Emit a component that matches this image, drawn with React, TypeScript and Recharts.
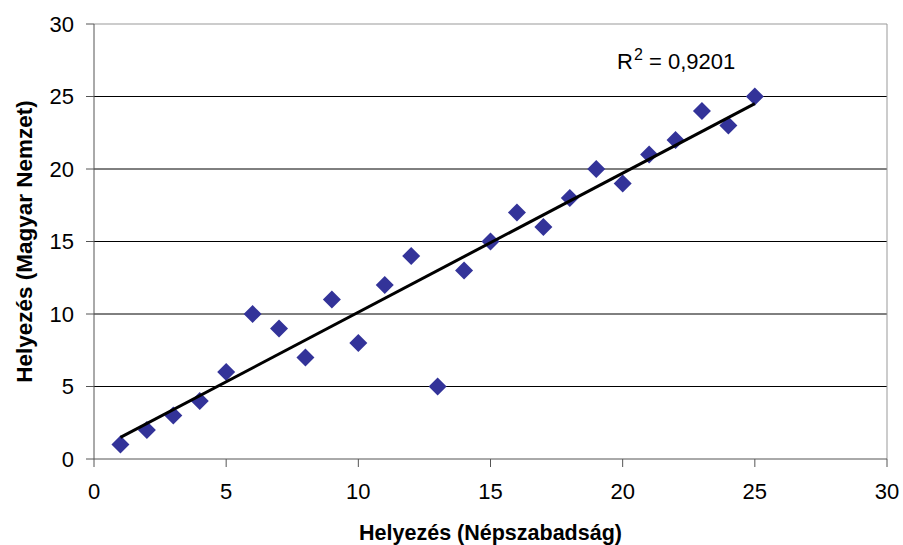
import React from "react";
import {
  ScatterChart,
  Scatter,
  XAxis,
  YAxis,
  CartesianGrid,
  ReferenceLine,
  ReferenceDot,
} from "recharts";

// ranks in Népszabadság (x) vs Magyar Nemzet (y)
const rankNepszabadsag = [1, 2, 3, 4, 5, 6, 7, 8, 9, 10, 11, 12, 13, 14, 15, 16, 17, 18, 19, 20, 21, 22, 23, 24, 25];
const rankMagyarNemzet = [1, 2, 3, 4, 6, 10, 9, 7, 11, 8, 12, 14, 5, 13, 15, 17, 16, 18, 20, 19, 21, 22, 24, 23, 25];
const axisTicks = [0, 5, 10, 15, 20, 25, 30];
const gridLines = [5, 10, 15, 20, 25];
const r2Label = "0,9201";

const points = rankNepszabadsag.map((x, i) => ({ x, y: rankMagyarNemzet[i] }));

// least squares trend line
const n = points.length;
const mx = points.reduce((s, p) => s + p.x, 0) / n;
const my = points.reduce((s, p) => s + p.y, 0) / n;
const slope =
  points.reduce((s, p) => s + (p.x - mx) * (p.y - my), 0) /
  points.reduce((s, p) => s + (p.x - mx) * (p.x - mx), 0);
const xMin = Math.min(...rankNepszabadsag);
const xMax = Math.max(...rankNepszabadsag);
const trend = [
  { x: xMin, y: my + slope * (xMin - mx) },
  { x: xMax, y: my + slope * (xMax - mx) },
];

const FONT = "'Liberation Sans', Arial, sans-serif";

const Diamond = (props: any) => {
  const { cx, cy } = props;
  const s = 9;
  return (
    <polygon
      points={`${cx},${cy - s} ${cx + s},${cy} ${cx},${cy + s} ${cx - s},${cy}`}
      fill="#333399"
    />
  );
};

const R2Text = (props: any) => {
  const { viewBox } = props;
  const x = viewBox.cx ?? viewBox.x;
  const y = viewBox.cy ?? viewBox.y;
  return (
    <text x={x} y={y} fontFamily={FONT} fontSize={22} fill="#000">
      R<tspan dx={1} dy={-9} fontSize={16}>2</tspan>
      <tspan dy={9}>{` = ${r2Label}`}</tspan>
    </text>
  );
};

export default function App() {
  return (
    <div style={{ position: "absolute", left: 0, top: 0, background: "#fff" }}>
      <ScatterChart
        width={903}
        height={545}
        margin={{ top: 24, right: 16, bottom: 0, left: 0 }}
      >
        <CartesianGrid
          vertical={false}
          stroke="#000"
          horizontalValues={gridLines}
        />
        <XAxis
          type="number"
          dataKey="x"
          domain={[0, 30]}
          ticks={axisTicks}
          interval={0}
          height={86}
          tickSize={8}
          tickMargin={16}
          stroke="#555"
          tick={{ fill: "#000", fontSize: 22, fontFamily: FONT }}
          label={{
            value: "Helyezés (Népszabadság)",
            position: "insideBottom",
            offset: 5,
            style: { fontFamily: FONT, fontWeight: "bold", fontSize: 21.5, fill: "#000" },
          }}
        />
        <YAxis
          type="number"
          dataKey="y"
          domain={[0, 30]}
          ticks={axisTicks}
          interval={0}
          width={94}
          tickSize={8}
          tickMargin={12}
          stroke="#555"
          tick={{ fill: "#000", fontSize: 22, fontFamily: FONT }}
          label={{
            value: "Helyezés (Magyar Nemzet)",
            angle: -90,
            position: "insideLeft",
            offset: 24,
            style: { fontFamily: FONT, fontWeight: "bold", fontSize: 22.5, fill: "#000", textAnchor: "middle" },
          }}
        />
        <ReferenceLine y={30} stroke="#999" />
        <ReferenceLine x={30} stroke="#999" />
        <Scatter
          data={points}
          shape={<Diamond />}
          isAnimationActive={false}
        />
        <Scatter
          data={trend}
          line={{ stroke: "#000", strokeWidth: 3 }}
          shape={() => null}
          isAnimationActive={false}
        />
        <ReferenceDot
          x={19.79}
          y={26.9}
          r={0}
          stroke="none"
          label={<R2Text />}
        />
      </ScatterChart>
    </div>
  );
}
